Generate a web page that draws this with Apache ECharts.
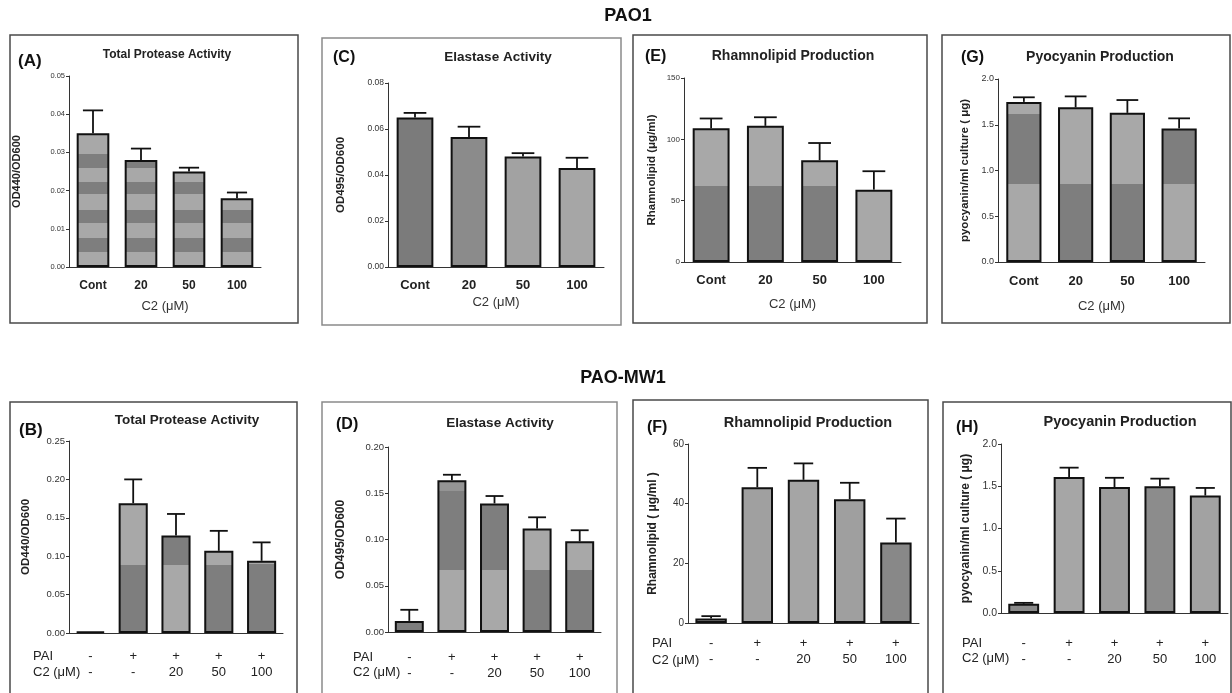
<!DOCTYPE html>
<html>
<head>
<meta charset="utf-8">
<title>PAO1 / PAO-MW1</title>
<script src="https://cdn.jsdelivr.net/npm/echarts@6/dist/echarts.min.js"></script>
<style>
html, body { margin: 0; padding: 0; background: #fff; }
#main { width: 1232px; height: 693px; }
</style>
</head>
<body>
<div id="main"></div>
<script>
// categories
var topCats = ['Cont', '20', '50', '100'];
var paiRow = ['-', '+', '+', '+', '+'];
var c2Row = ['-', '-', '20', '50', '100'];

// PAO1 (top row): means and upper error
var proteaseA = [0.035, 0.028, 0.025, 0.018];
var proteaseAErr = [0.006, 0.003, 0.001, 0.0015];
var elastaseC = [0.065, 0.0565, 0.048, 0.043];
var elastaseCErr = [0.002, 0.0045, 0.0015, 0.0045];
var rhamnoE = [109, 111, 83, 59];
var rhamnoEErr = [8, 7, 14, 15];
var pyoG = [1.75, 1.69, 1.63, 1.46];
var pyoGErr = [0.05, 0.12, 0.14, 0.11];

// PAO-MW1 (bottom row)
var proteaseB = [0.002, 0.169, 0.127, 0.107, 0.094];
var proteaseBErr = [0, 0.031, 0.028, 0.026, 0.024];
var elastaseD = [0.012, 0.164, 0.139, 0.112, 0.098];
var elastaseDErr = [0.012, 0.006, 0.008, 0.012, 0.012];
var rhamnoF = [1.5, 45.5, 48, 41.5, 27];
var rhamnoFErr = [0.8, 6.5, 5.5, 5.5, 8];
var pyoH = [0.11, 1.61, 1.49, 1.50, 1.39];
var pyoHErr = [0.01, 0.11, 0.11, 0.09, 0.09];

var FONT = '"Liberation Sans", Arial, sans-serif';
var L = '#a8a8a8', D = '#7e7e7e';

// shading of the grey bars (scanned halftone bands), per bar: [cuts, colours bottom-up]
var stripeCuts = [0.004, 0.0076, 0.0115, 0.015, 0.019, 0.0223, 0.026, 0.0296];
var stripeCols = [L, D, L, D, L, D, L, D, L];
function solid(c) { return [[], [c]]; }

var panels = [
    { letter: '(A)', title: 'Total Protease Activity', yName: 'OD440/OD600', cats: topCats, mean: proteaseA, err: proteaseAErr,
      max: 0.05, step: 0.01, dec: 2, grid: { left: 69, top: 76, width: 192, height: 191 },
      frame: [10, 35, 288, 288, '#4a4a4a'], titlePos: [167, 55, 12], letterPos: [18, 61, 17],
      tickSize: 7.5, nameSize: 11, nameGap: 47, catSize: 12, catMargin: 13, xNameGap: 33,
      shades: [[stripeCuts, stripeCols], [stripeCuts, stripeCols], [stripeCuts, stripeCols], [stripeCuts, stripeCols]] },
    { letter: '(C)', title: 'Elastase Activity', yName: 'OD495/OD600', cats: topCats, mean: elastaseC, err: elastaseCErr,
      max: 0.08, step: 0.02, dec: 2, grid: { left: 388, top: 83, width: 216, height: 184 },
      frame: [322, 38, 299, 287, '#8a8a8a'], titlePos: [498, 57, 13.5], letterPos: [333, 58, 16],
      tickSize: 8.5, nameSize: 11.5, nameGap: 41, catSize: 13, catMargin: 12, xNameGap: 29,
      shades: [solid('#7b7b7b'), solid('#8b8b8b'), solid('#a2a2a2'), solid('#a6a6a6')] },
    { letter: '(E)', title: 'Rhamnolipid Production', yName: 'Rhamnolipid (\u03bcg/ml)', cats: topCats, mean: rhamnoE, err: rhamnoEErr,
      max: 150, step: 50, dec: 0, grid: { left: 684, top: 78, width: 217, height: 184 },
      frame: [633, 35, 294, 288, '#4a4a4a'], titlePos: [793, 56, 14], letterPos: [645, 57, 16],
      tickSize: 8, nameSize: 11.5, nameGap: 26, catSize: 13, catMargin: 12, xNameGap: 36,
      shades: [[[62], [D, L]], [[62], [D, L]], [[62], [D, L]], solid(L)] },
    { letter: '(G)', title: 'Pyocyanin Production', yName: 'pyocyanin/ml culture ( \u03bcg)', cats: topCats, mean: pyoG, err: pyoGErr,
      max: 2, step: 0.5, dec: 1, grid: { left: 998, top: 79, width: 207, height: 183 },
      frame: [942, 35, 288, 288, '#4a4a4a'], titlePos: [1100, 57, 14], letterPos: [961, 58, 16],
      tickSize: 9, nameSize: 11.5, nameGap: 27, catSize: 13, catMargin: 13, xNameGap: 38,
      shades: [[[0.85, 1.62], [L, D, L]], [[0.85], [D, L]], [[0.85], [D, L]], [[0.85], [L, D]]] },

    { letter: '(B)', title: 'Total Protease Activity', yName: 'OD440/OD600', cats: c2Row, mean: proteaseB, err: proteaseBErr,
      max: 0.25, step: 0.05, dec: 2, grid: { left: 69, top: 441, width: 214, height: 192 },
      frame: [10, 402, 287, 300, '#4a4a4a'], titlePos: [187, 420, 13.5], letterPos: [19, 430, 17],
      tickSize: 9.5, nameSize: 11.5, nameGap: 37, catSize: 13, catMargin: 15, rowPos: [33, 656, 672],
      shades: [solid(D), [[0.088], [D, L]], [[0.088], [L, D]], [[0.088], [D, L]], [[0.09], [D, L]]] },
    { letter: '(D)', title: 'Elastase Activity', yName: 'OD495/OD600', cats: c2Row, mean: elastaseD, err: elastaseDErr,
      max: 0.2, step: 0.05, dec: 2, grid: { left: 388, top: 447, width: 213, height: 185 },
      frame: [322, 402, 295, 300, '#8a8a8a'], titlePos: [500, 423, 13.5], letterPos: [336, 425, 16],
      tickSize: 9.5, nameSize: 12, nameGap: 41, catSize: 13, catMargin: 17, rowPos: [353, 657, 672],
      shades: [solid(D), [[0.067, 0.152], [L, D, '#949494']], [[0.067], [L, D]], [[0.067], [D, L]], [[0.067], [D, L]]] },
    { letter: '(F)', title: 'Rhamnolipid Production', yName: 'Rhamnolipid ( \u03bcg/ml )', cats: c2Row, mean: rhamnoF, err: rhamnoFErr,
      max: 60, step: 20, dec: 0, grid: { left: 688, top: 444, width: 231, height: 179 },
      frame: [633, 400, 295, 300, '#4a4a4a'], titlePos: [808, 423, 14.5], letterPos: [647, 428, 16],
      tickSize: 10, nameSize: 12, nameGap: 29, catSize: 13, catMargin: 12, rowPos: [652, 643, 660],
      shades: [solid('#a4a4a4'), solid('#a0a0a0'), solid('#a5a5a5'), solid('#9f9f9f'), solid('#888888')] },
    { letter: '(H)', title: 'Pyocyanin Production', yName: 'pyocyanin/ml culture ( \u03bcg)', cats: c2Row, mean: pyoH, err: pyoHErr,
      max: 2, step: 0.5, dec: 1, grid: { left: 1001, top: 444, width: 227, height: 169 },
      frame: [943, 402, 288, 300, '#4a4a4a'], titlePos: [1120, 422, 14.5], letterPos: [956, 428, 16],
      tickSize: 10.5, nameSize: 12, nameGap: 29, catSize: 13, catMargin: 22, rowPos: [962, 643, 658],
      shades: [solid('#8a8a8a'), solid('#a6a6a6'), solid('#9c9c9c'), solid('#8c8c8c'), solid('#a2a2a2')] }
];

// vertical gradient with hard stops at the given values
function bandFill(v, cuts, cols) {
    if (!cuts.length) { return cols[0]; }
    var edges = [0].concat(cuts).concat([Infinity]);
    var stops = [];
    for (var i = cols.length - 1; i >= 0; i--) {
        var lo = edges[i], hi = Math.min(edges[i + 1], v);
        if (lo >= v) { continue; }
        stops.push({ offset: 1 - hi / v, color: cols[i] });
        stops.push({ offset: 1 - lo / v, color: cols[i] });
    }
    return { type: 'linear', x: 0, y: 0, x2: 0, y2: 1, colorStops: stops };
}

function errRender(params, api) {
    var e = api.value(2);
    if (!e) { return null; }
    var base = api.coord([api.value(0), api.value(1)]);
    var top = api.coord([api.value(0), api.value(1) + e]);
    var half = api.size([1, 0])[0] * 0.21;
    var st = { stroke: '#111', lineWidth: 1.8 };
    return {
        type: 'group',
        children: [
            { type: 'line', shape: { x1: base[0], y1: base[1], x2: top[0], y2: top[1] }, style: st },
            { type: 'line', shape: { x1: top[0] - half, y1: top[1], x2: top[0] + half, y2: top[1] }, style: st }
        ]
    };
}

var grids = [], xAxes = [], yAxes = [], series = [];
var graphics = [
    { type: 'text', x: 628, y: 16, style: { text: 'PAO1', align: 'center', verticalAlign: 'middle', font: 'bold 18px ' + FONT, fill: '#111' } },
    { type: 'text', x: 623, y: 378, style: { text: 'PAO-MW1', align: 'center', verticalAlign: 'middle', font: 'bold 18px ' + FONT, fill: '#111' } }
];

panels.forEach(function (p, k) {
    var bottom = !!p.rowPos;
    grids.push({ left: p.grid.left, top: p.grid.top, width: p.grid.width, height: p.grid.height, outerBoundsMode: 'none' });

    xAxes.push({
        type: 'category', gridIndex: k, data: p.cats,
        axisLine: { lineStyle: { color: '#333', width: 1 } },
        axisTick: { alignWithLabel: true, length: 4, lineStyle: { color: '#333' } },
        axisLabel: bottom ? {
            margin: p.catMargin, fontSize: p.catSize, lineHeight: 16, color: '#222', fontFamily: FONT,
            formatter: function (v, i) { return paiRow[i] + '\n' + c2Row[i]; }
        } : { margin: p.catMargin, fontSize: p.catSize, fontWeight: 'bold', color: '#222', fontFamily: FONT },
        name: bottom ? '' : 'C2 (\u03bcM)', nameLocation: 'middle', nameGap: p.xNameGap,
        nameTextStyle: { fontSize: 13, color: '#333', fontFamily: FONT }
    });

    yAxes.push({
        type: 'value', gridIndex: k, min: 0, max: p.max, interval: p.step,
        splitLine: { show: false },
        axisLine: { show: true, lineStyle: { color: '#333', width: 1 } },
        axisTick: { show: true, length: 3, lineStyle: { color: '#333' } },
        axisLabel: {
            margin: 4, fontSize: p.tickSize, color: '#333', fontFamily: FONT,
            formatter: (function (dec) { return function (v) { return v.toFixed(dec); }; })(p.dec)
        },
        name: p.yName, nameLocation: 'middle', nameRotate: 90, nameGap: p.nameGap,
        nameTextStyle: { fontSize: p.nameSize, fontWeight: 'bold', color: '#222', fontFamily: FONT }
    });

    series.push({
        type: 'bar', xAxisIndex: k, yAxisIndex: k, barWidth: '68%', silent: true,
        itemStyle: { borderColor: '#111', borderWidth: 2 },
        data: p.mean.map(function (v, i) {
            return { value: v, itemStyle: { color: bandFill(v, p.shades[i][0], p.shades[i][1]) } };
        })
    });
    series.push({
        type: 'custom', xAxisIndex: k, yAxisIndex: k, silent: true, z: 3,
        renderItem: errRender, encode: { x: 0, y: 1 },
        data: p.mean.map(function (v, i) { return [i, v, p.err[i]]; })
    });

    graphics.push({ type: 'rect', shape: { x: p.frame[0], y: p.frame[1], width: p.frame[2], height: p.frame[3] },
        style: { fill: 'none', stroke: p.frame[4], lineWidth: 1.5 }, z: -1 });
    graphics.push({ type: 'text', x: p.titlePos[0], y: p.titlePos[1],
        style: { text: p.title, align: 'center', verticalAlign: 'middle', font: 'bold ' + p.titlePos[2] + 'px ' + FONT, fill: '#222' } });
    graphics.push({ type: 'text', x: p.letterPos[0], y: p.letterPos[1],
        style: { text: p.letter, align: 'left', verticalAlign: 'middle', font: 'bold ' + p.letterPos[2] + 'px ' + FONT, fill: '#111' } });
    if (bottom) {
        graphics.push({ type: 'text', x: p.rowPos[0], y: p.rowPos[1],
            style: { text: 'PAI', align: 'left', verticalAlign: 'middle', font: '13px ' + FONT, fill: '#222' } });
        graphics.push({ type: 'text', x: p.rowPos[0], y: p.rowPos[2],
            style: { text: 'C2 (\u03bcM)', align: 'left', verticalAlign: 'middle', font: '13px ' + FONT, fill: '#222' } });
    }
});

var chart = echarts.init(document.getElementById('main'), null, { renderer: 'canvas' });
chart.setOption({
    backgroundColor: '#fff',
    animation: false,
    textStyle: { fontFamily: FONT },
    grid: grids,
    xAxis: xAxes,
    yAxis: yAxes,
    series: series,
    graphic: { elements: graphics }
});
</script>
</body>
</html>
